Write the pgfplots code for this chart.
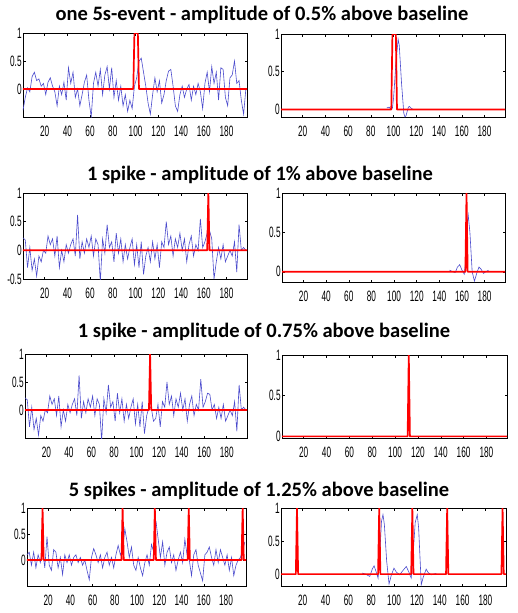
\documentclass[border=0pt]{standalone}
\usepackage{fontspec}
\setmainfont{Carlito}
\newfontfamily\tickfont{Liberation Sans}
\usepackage{pgfplots}
\pgfplotsset{compat=1.18}
\usepackage{pgfplotstable}

\definecolor{sigblue}{RGB}{75,75,205}
\definecolor{sigred}{RGB}{255,0,0}

\pgfplotsset{
  panel/.style={
    scale only axis, anchor=north west,
    xmin=1, xmax=198,
    xtick={20,40,...,180},
    tick align=inside,
    major tick length=2.5pt,
    axis line style={black, line width=0.6pt},
    tick style={black, line width=0.5pt},
    /pgf/number format/assume math mode=true,
    ticklabel style={font=\tickfont\fontsize{15}{15}\selectfont, xscale=0.55},
    x tick label style={yshift=-5pt},
    yticklabel style={/pgf/number format/fixed, xshift=1pt},
  },
  blu/.style={sigblue, line width=0.6pt, no marks},
  rd/.style={sigred, line width=1.7pt, no marks, line join=round},
}

\pgfplotstableread[row sep=\\]{x y\\
1 -0.38\\ 3 -0.15\\ 5 0.02\\ 7 -0.05\\ 9 0.22\\ 11 0.3\\ 13 0.15\\ 15 0.18\\ 17 0.05\\ 19 0.1\\
21 -0.1\\ 23 0.12\\ 25 0.2\\ 27 0.05\\ 29 -0.05\\ 31 -0.3\\ 33 0.05\\ 35 -0.1\\ 37 0.12\\ 39 -0.2\\
41 0.38\\ 43 0.1\\ 45 0.3\\ 47 -0.15\\ 49 0.0\\ 51 -0.3\\ 53 -0.1\\ 55 0.12\\ 57 0.25\\ 59 -0.2\\
61 -0.5\\ 63 0.1\\ 65 0.3\\ 67 0.05\\ 69 0.35\\ 71 -0.1\\ 73 0.25\\ 75 0.4\\ 77 0.0\\ 79 0.38\\
81 -0.15\\ 83 0.15\\ 85 -0.2\\ 87 0.05\\ 89 -0.3\\ 91 -0.1\\ 93 -0.4\\ 95 -0.2\\ 97 -0.35\\ 99 0.05\\
101 0.2\\ 103 0.5\\ 105 0.55\\ 107 0.3\\ 109 0.05\\ 111 -0.25\\ 113 -0.45\\ 115 -0.1\\ 117 0.2\\ 119 -0.05\\
121 0.15\\ 123 -0.25\\ 125 -0.1\\ 127 0.15\\ 129 0.32\\ 131 0.35\\ 133 0.05\\ 135 -0.3\\ 137 -0.4\\ 139 -0.1\\
141 0.05\\ 143 -0.15\\ 145 0.0\\ 147 0.08\\ 149 -0.2\\ 151 0.05\\ 153 -0.1\\ 155 0.1\\ 157 -0.05\\ 159 -0.35\\
161 0.1\\ 163 0.3\\ 165 -0.05\\ 167 0.4\\ 169 0.1\\ 171 0.3\\ 173 -0.2\\ 175 0.38\\ 177 0.35\\ 179 -0.15\\
181 -0.3\\ 183 0.2\\ 185 0.25\\ 187 0.5\\ 189 0.1\\ 191 0.15\\ 193 -0.2\\ 195 -0.45\\ 197 0.0\\
}\noiseA

\pgfplotstableread[row sep=\\]{x y\\
1 0.22\\ 3 0.18\\ 5 -0.3\\ 7 0.05\\ 9 -0.35\\ 11 -0.15\\ 13 -0.45\\ 15 -0.1\\ 17 -0.2\\ 19 0.0\\
21 -0.05\\ 23 0.25\\ 25 0.1\\ 27 0.2\\ 29 -0.1\\ 31 0.25\\ 33 -0.3\\ 35 0.0\\ 37 -0.2\\ 39 0.1\\
41 -0.05\\ 43 0.1\\ 45 0.2\\ 47 -0.1\\ 49 0.62\\ 51 -0.15\\ 53 0.15\\ 55 -0.05\\ 57 0.2\\ 59 0.05\\
61 0.25\\ 63 -0.1\\ 65 0.2\\ 67 0.1\\ 69 -0.55\\ 71 0.2\\ 73 -0.05\\ 75 0.45\\ 77 0.05\\ 79 0.15\\
81 -0.2\\ 83 0.3\\ 85 -0.05\\ 87 0.2\\ 89 -0.2\\ 91 0.1\\ 93 -0.15\\ 95 0.05\\ 97 0.2\\ 99 -0.25\\
101 0.1\\ 103 -0.3\\ 105 0.15\\ 107 -0.42\\ 109 -0.1\\ 111 0.05\\ 113 -0.2\\ 115 0.15\\ 117 -0.15\\ 119 0.1\\
121 -0.3\\ 123 0.15\\ 125 0.05\\ 127 0.5\\ 129 0.1\\ 131 0.25\\ 133 -0.1\\ 135 0.2\\ 137 0.05\\ 139 0.3\\
141 0.0\\ 143 0.2\\ 145 -0.2\\ 147 0.1\\ 149 0.25\\ 151 -0.1\\ 153 0.1\\ 155 0.0\\ 157 0.55\\ 159 0.05\\
161 0.15\\ 163 0.3\\ 165 0.35\\ 167 0.2\\ 169 -0.5\\ 171 -0.2\\ 173 0.05\\ 175 -0.15\\ 177 0.1\\ 179 -0.2\\
181 -0.1\\ 183 0.0\\ 185 -0.1\\ 187 0.15\\ 189 -0.38\\ 191 0.45\\ 193 0.0\\ 195 0.05\\ 197 0.0\\
}\noiseB

\pgfplotstableread[row sep=\\]{x y\\
1 0.22\\ 3 0.18\\ 5 -0.3\\ 7 0.05\\ 9 -0.35\\ 11 -0.15\\ 13 -0.45\\ 15 -0.1\\ 17 -0.2\\ 19 0.0\\
21 -0.05\\ 23 0.25\\ 25 0.1\\ 27 0.2\\ 29 -0.1\\ 31 0.25\\ 33 -0.3\\ 35 0.0\\ 37 -0.2\\ 39 0.1\\
41 -0.05\\ 43 0.1\\ 45 0.2\\ 47 -0.1\\ 49 0.62\\ 51 -0.15\\ 53 0.15\\ 55 -0.05\\ 57 0.2\\ 59 0.05\\
61 0.25\\ 63 -0.1\\ 65 0.2\\ 67 0.1\\ 69 -0.55\\ 71 0.2\\ 73 -0.05\\ 75 0.45\\ 77 0.05\\ 79 0.15\\
81 -0.2\\ 83 0.3\\ 85 -0.05\\ 87 0.2\\ 89 -0.2\\ 91 0.1\\ 93 -0.15\\ 95 0.05\\ 97 0.2\\ 99 -0.25\\
101 0.1\\ 103 -0.3\\ 105 0.15\\ 107 -0.42\\ 109 -0.1\\ 111 0.05\\ 113 0.05\\ 115 -0.2\\ 117 -0.15\\ 119 0.1\\
121 -0.3\\ 123 0.15\\ 125 0.05\\ 127 0.5\\ 129 0.1\\ 131 0.25\\ 133 -0.1\\ 135 0.2\\ 137 0.05\\ 139 0.3\\
141 0.0\\ 143 0.2\\ 145 -0.2\\ 147 0.1\\ 149 0.25\\ 151 -0.1\\ 153 0.1\\ 155 0.0\\ 157 0.55\\ 159 0.05\\
161 0.15\\ 163 0.3\\ 165 0.28\\ 167 0.0\\ 169 0.1\\ 171 -0.15\\ 173 0.05\\ 175 -0.15\\ 177 0.1\\ 179 -0.2\\
181 -0.1\\ 183 0.0\\ 185 -0.1\\ 187 0.15\\ 189 -0.38\\ 191 0.45\\ 193 0.0\\ 195 0.05\\ 197 0.0\\
}\noiseC

\pgfplotstableread[row sep=\\]{x y\\
1 0.1\\ 3 0.15\\ 5 -0.1\\ 7 0.15\\ 9 -0.15\\ 11 0.1\\ 13 -0.05\\ 15 0.2\\ 17 -0.15\\ 19 0.45\\
21 -0.1\\ 23 -0.2\\ 25 0.2\\ 27 0.15\\ 29 -0.15\\ 31 0.05\\ 33 -0.28\\ 35 0.1\\ 37 -0.05\\ 39 0.1\\
41 -0.1\\ 43 0.05\\ 45 0.1\\ 47 -0.05\\ 49 0.05\\ 51 -0.1\\ 53 0.0\\ 55 -0.2\\ 57 -0.38\\ 59 0.05\\
61 0.22\\ 63 0.1\\ 65 -0.05\\ 67 0.1\\ 69 -0.15\\ 71 0.05\\ 73 0.15\\ 75 -0.1\\ 77 0.05\\ 79 -0.15\\
81 0.1\\ 83 0.28\\ 85 0.1\\ 87 0.2\\ 89 0.6\\ 91 0.35\\ 93 0.05\\ 95 0.25\\ 97 -0.1\\ 99 -0.2\\
101 0.05\\ 103 -0.15\\ 105 -0.3\\ 107 -0.05\\ 109 0.1\\ 111 -0.1\\ 113 0.3\\ 115 0.15\\ 117 0.75\\ 119 0.4\\
121 0.05\\ 123 0.35\\ 125 -0.1\\ 127 0.15\\ 129 0.25\\ 131 -0.05\\ 133 0.1\\ 135 -0.2\\ 137 0.0\\ 139 0.15\\
141 -0.05\\ 143 0.4\\ 145 0.1\\ 147 0.0\\ 149 -0.3\\ 151 0.1\\ 153 0.2\\ 155 -0.1\\ 157 -0.25\\ 159 -0.4\\
161 0.1\\ 163 0.15\\ 165 0.25\\ 167 0.05\\ 169 -0.1\\ 171 0.2\\ 173 -0.05\\ 175 0.2\\ 177 0.05\\ 179 -0.1\\
181 0.1\\ 183 -0.2\\ 185 0.05\\ 187 -0.3\\ 189 -0.1\\ 191 0.0\\ 193 0.05\\ 195 0.2\\ 197 0.35\\
}\noiseD

\begin{document}
\begin{tikzpicture}
\useasboundingbox (0pt,0pt) rectangle (517pt,-613pt);

\tikzset{ttl/.style={font=\bfseries\fontsize{20.5}{20.5}\selectfont, inner sep=0pt}}
\node[ttl] at (262pt,-15pt) {one 5s-event - amplitude of 0.5\% above baseline};
\node[ttl] at (260pt,-175pt) {1 spike - amplitude of 1\% above baseline};
\node[ttl] at (264pt,-332pt) {1 spike - amplitude of 0.75\% above baseline};
\node[ttl] at (259pt,-491pt) {5 spikes - amplitude of 1.25\% above baseline};

% Row 1
\begin{axis}[panel, at={(23pt,-33pt)}, width=224pt, height=84pt,
  ymin=-0.5, ymax=1, ytick={0,0.5,1}]
\addplot[blu] table {\noiseA};
\addplot[rd] coordinates {(1,0) (98,0) (99,1) (102,1) (103,0) (198,0)};
\end{axis}
\begin{axis}[panel, at={(281pt,-34pt)}, width=224pt, height=83pt,
  ymin=-0.1, ymax=1, ytick={0,0.5,1}]
\addplot[blu] coordinates {(94,0.02) (96,0.03) (98,0.0) (99,0.02) (100,0.15) (102,0.6) (104,0.93) (105,0.85) (107,0.35) (109,-0.05) (110,-0.1) (111,-0.08) (113,0.03) (114,0.04) (116,0.01) (117.5,0)};
\addplot[rd] coordinates {(1,0) (98,0) (99,1) (102,1) (103,0) (198,0)};
\end{axis}

% Row 2
\begin{axis}[panel, at={(23pt,-193pt)}, width=224pt, height=86pt,
  ymin=-0.5, ymax=1, ytick={-0.5,0,0.5,1}]
\addplot[blu] table {\noiseB};
\addplot[rd] coordinates {(1,0) (163,0) (164,1) (165,0) (198,0)};
\end{axis}
\begin{axis}[panel, at={(282pt,-193pt)}, width=223pt, height=89pt,
  ymin=-0.13, ymax=1, ytick={0,0.5,1}]
\addplot[blu] coordinates {(149,0.02) (152,0.0) (154,-0.01) (156,0.06) (158,0.09) (160,0.02) (162,-0.03) (163,0.1) (164.5,0.6) (165.5,0.72) (167,0.5) (169,0.0) (171,-0.12) (173,-0.02) (175,0.06) (177,0.03) (179,-0.02) (181,0.0) (183.5,0.02)};
\addplot[rd] coordinates {(1,0) (163,0) (164,1) (165,0) (198,0)};
\end{axis}

% Row 3
\begin{axis}[panel, at={(25pt,-354pt)}, width=222pt, height=84pt,
  ymin=-0.5, ymax=1, ytick={0,0.5,1}]
\addplot[blu] table {\noiseC};
\addplot[rd] coordinates {(1,0) (111,0) (112,1) (113,0) (198,0)};
\end{axis}
\begin{axis}[panel, at={(282pt,-355pt)}, width=225pt, height=83pt,
  ymin=-0.02, ymax=1, ytick={0,0.5,1}]
\addplot[rd] coordinates {(1,0) (111,0) (112,1) (113,0) (198,0)};
\end{axis}

% Row 4
\begin{axis}[panel, at={(27pt,-508pt)}, width=219pt, height=78pt,
  ymin=-0.5, ymax=1, ytick={0,0.5,1}]
\addplot[blu] table {\noiseD};
\addplot[rd] coordinates {(1,0) (14,0) (15,1) (16,0) (86,0) (87,1) (88,0) (115,0) (116,1) (117,0) (145.5,0) (146.5,1) (147.5,0) (194,0) (195,1) (196,0) (198,0)};
\end{axis}
\begin{axis}[panel, at={(281pt,-508pt)}, width=225pt, height=78pt,
  ymin=-0.18, ymax=1, ytick={0,0.5,1}]
\addplot[blu] coordinates {(72,0.015) (75,0.0) (78.7,-0.035) (81,0.08) (82.5,0.125) (84,0.05) (86,-0.06) (87.5,0.3) (89,0.8) (90.3,0.9) (91.5,0.75) (93.5,0.2) (95.6,-0.15) (97.5,-0.02) (99.9,0.09) (102,0.03) (104.9,-0.01) (108,0.06) (110.7,0.115) (113,0.03) (115,-0.06) (116.5,0.25) (118.5,0.78) (120.3,0.9) (121.5,0.7) (123.8,-0.16) (125.5,-0.05) (128.1,0.075) (130,0.02) (132.5,-0.01) (136.9,0.01)};
\addplot[rd] coordinates {(1,0) (14,0) (15,1) (16,0) (86,0) (87,1) (88,0) (115,0) (116,1) (117,0) (145.5,0) (146.5,1) (147.5,0) (194,0) (195,1) (196,0) (198,0)};
\end{axis}
\end{tikzpicture}
\end{document}
